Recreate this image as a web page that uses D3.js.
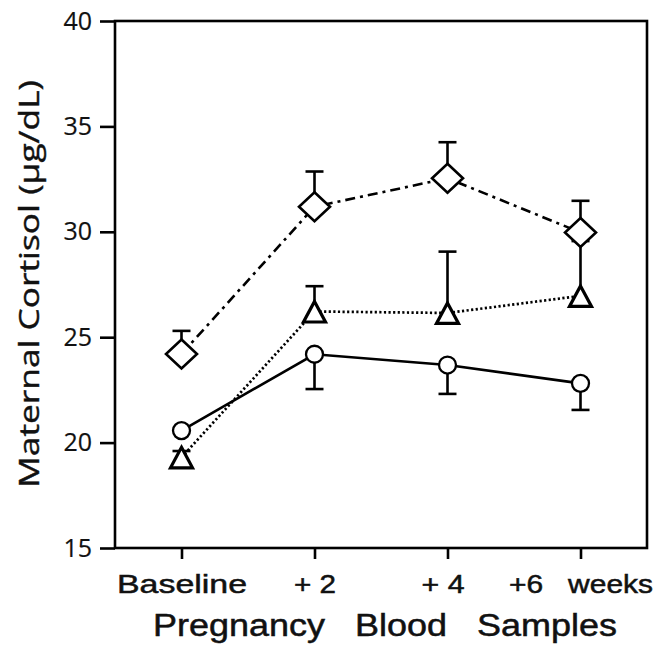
<!DOCTYPE html>
<html>
<head>
<meta charset="utf-8">
<script src="https://cdn.jsdelivr.net/npm/d3@7"></script>
<style>
  body { margin: 0; background: #fff; }
</style>
</head>
<body>
<svg id="drawing_region"></svg>
<script>
const categories = ["Baseline", "+ 2", "+ 4", "+6   weeks"];
const yTicks = [15, 20, 25, 30, 35, 40];

// circles, solid line, error bars downward
const circleMean = [20.57, 24.19, 23.68, 22.81];
const circleErr = [0, 1.65, 1.37, 1.26];
// triangles, dotted line, error bars upward
const triangleMean = [19.3, 26.22, 26.15, 26.96];
const triangleErr = [0.3, 1.2, 2.91, 2.6];
// diamonds, dash-dot line, error bars upward
const diamondMean = [24.2, 31.19, 32.54, 29.97];
const diamondErr = [1.1, 1.67, 1.71, 1.5];

const config = {
    width: 667,
    height: 646,
    margin: {top: 21, right: 20, bottom: 98, left: 115}
};

const svg = d3.select('#drawing_region')
    .attr('width', config.width)
    .attr('height', config.height);

const inner_width = config.width - config.margin.left - config.margin.right;
const inner_height = config.height - config.margin.top - config.margin.bottom;

const chart = svg.append('g')
    .attr('transform', `translate(${config.margin.left}, ${config.margin.top})`);

const xscale = d3.scalePoint()
    .domain(categories)
    .range([0, inner_width])
    .padding(0.5);

const yscale = d3.scaleLinear()
    .domain([15, 40])
    .range([inner_height, 0]);

// frame
chart.append('rect')
    .attr('x', 0).attr('y', 0)
    .attr('width', inner_width).attr('height', inner_height)
    .attr('fill', 'none')
    .attr('stroke', '#000')
    .attr('stroke-width', 2.6);

// y axis
const yaxis_group = chart.append('g')
    .call(d3.axisLeft(yscale).tickValues(yTicks).tickSize(15).tickPadding(8).tickFormat(d3.format('d')));
yaxis_group.select('.domain').remove();
yaxis_group.selectAll('line').attr('stroke-width', 2.6);
yaxis_group.selectAll('text')
    .attr('font-family', '"Open Sans", "DejaVu Sans", sans-serif')
    .attr('font-size', '25px')
    .attr('fill', '#111')
    .attr('stroke', '#111')
    .attr('stroke-width', 0.2);

// x axis
const xaxis_group = chart.append('g')
    .attr('transform', `translate(0, ${inner_height})`)
    .call(d3.axisBottom(xscale).tickSize(11).tickPadding(16));
xaxis_group.select('.domain').remove();
xaxis_group.selectAll('line').attr('stroke-width', 2.6);
const labelWidth = {"Baseline": 130, "+ 2": 42, "+ 4": 43, "+6   weeks": 144};
const labelShift = {"Baseline": 0, "+ 2": 0, "+ 4": -5, "+6   weeks": 0};
xaxis_group.selectAll('text')
    .attr('font-family', '"Liberation Sans", Arial, sans-serif')
    .attr('font-size', '26px')
    .attr('fill', '#111')
    .attr('stroke', '#111')
    .attr('stroke-width', 0.5)
    .attr('dy', '0.71em')
    .attr('x', d => labelShift[d])
    .attr('textLength', d => labelWidth[d])
    .attr('lengthAdjust', 'spacingAndGlyphs')
    .style('white-space', 'pre');

// axis titles
svg.append('text')
    .attr('transform', `translate(39, 284) rotate(-90)`)
    .attr('text-anchor', 'middle')
    .attr('font-family', '"Open Sans", "DejaVu Sans", sans-serif')
    .attr('font-size', '28px')
    .attr('fill', '#111')
    .attr('stroke', '#111')
    .attr('stroke-width', 0.4)
    .attr('textLength', 408)
    .attr('lengthAdjust', 'spacingAndGlyphs')
    .text('Maternal Cortisol (\u03bcg/dL)');

svg.append('text')
    .attr('x', 385)
    .attr('y', 636)
    .attr('text-anchor', 'middle')
    .attr('font-family', '"Liberation Sans", Arial, sans-serif')
    .attr('font-size', '31px')
    .attr('fill', '#111')
    .attr('stroke', '#111')
    .attr('stroke-width', 0.5)
    .attr('textLength', 464)
    .attr('lengthAdjust', 'spacingAndGlyphs')
    .style('white-space', 'pre')
    .text('Pregnancy   Blood   Samples');

// series
const series = [
    {mean: circleMean, err: circleErr, dir: 1, shape: 'circle', dash: null, width: 2.6},
    {mean: triangleMean, err: triangleErr, dir: -1, shape: 'triangle', dash: '2.2,2.4', width: 2.7},
    {mean: diamondMean, err: diamondErr, dir: -1, shape: 'diamond', dash: '10,5,3,5', width: 2.6}
];

const line = d3.line()
    .x(d => xscale(d.cat))
    .y(d => yscale(d.v));

series.forEach(s => {
    const pts = categories.map((c, i) => ({cat: c, v: s.mean[i], e: s.err[i]}));
    s.pts = pts;
    chart.append('path')
        .attr('d', line(pts))
        .attr('fill', 'none')
        .attr('stroke', '#000')
        .attr('stroke-width', s.width)
        .attr('stroke-dasharray', s.dash);
});

// error bars
series.forEach(s => {
    const g = chart.append('g');
    const bars = s.pts.filter(d => d.e > 0);
    g.selectAll('line.stem')
        .data(bars)
        .join('line')
        .attr('x1', d => xscale(d.cat))
        .attr('x2', d => xscale(d.cat))
        .attr('y1', d => yscale(d.v))
        .attr('y2', d => yscale(d.v - s.dir * d.e))
        .attr('stroke', '#000')
        .attr('stroke-width', 2.6);
    g.selectAll('line.cap')
        .data(bars)
        .join('line')
        .attr('x1', d => xscale(d.cat) - 9)
        .attr('x2', d => xscale(d.cat) + 9)
        .attr('y1', d => yscale(d.v - s.dir * d.e))
        .attr('y2', d => yscale(d.v - s.dir * d.e))
        .attr('stroke', '#000')
        .attr('stroke-width', 2.6);
});

// markers
series.forEach(s => {
    const g = chart.append('g');
    if (s.shape === 'circle') {
        g.selectAll('circle')
            .data(s.pts)
            .join('circle')
            .attr('cx', d => xscale(d.cat))
            .attr('cy', d => yscale(d.v))
            .attr('r', 8.5)
            .attr('fill', '#fff')
            .attr('stroke', '#000')
            .attr('stroke-width', 2.3);
    } else if (s.shape === 'triangle') {
        g.selectAll('path')
            .data(s.pts)
            .join('path')
            .attr('d', d => {
                const x = xscale(d.cat), y = yscale(d.v);
                return `M${x},${y - 10}L${x + 11},${y + 10.5}L${x - 11},${y + 10.5}Z`;
            })
            .attr('fill', '#fff')
            .attr('stroke', '#000')
            .attr('stroke-width', 3.2)
            .attr('stroke-linejoin', 'miter');
    } else {
        g.selectAll('path')
            .data(s.pts)
            .join('path')
            .attr('d', d => {
                const x = xscale(d.cat), y = yscale(d.v);
                return `M${x},${y - 14.5}L${x + 15.5},${y}L${x},${y + 14.5}L${x - 15.5},${y}Z`;
            })
            .attr('fill', '#fff')
            .attr('stroke', '#000')
            .attr('stroke-width', 2.6);
    }
});
</script>
</body>
</html>
